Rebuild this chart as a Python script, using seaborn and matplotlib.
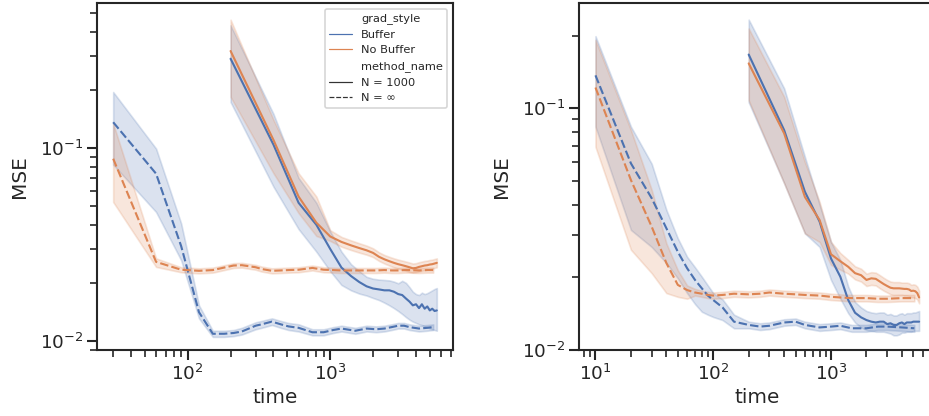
import numpy as np
import pandas as pd
import matplotlib
matplotlib.use("Agg")
import matplotlib.pyplot as plt
import seaborn as sns

# ---------------- data ----------------
grad_styles = ["Buffer", "No Buffer"]
method_names = ["N = 1000", "N = \u221e"]

# Left panel, N = inf (dashed)
tA_inf = [30, 60, 90, 120, 150, 180, 210, 240, 300, 330, 390, 450, 510, 600, 750, 900,
          1050, 1200, 1500, 1800, 2100, 2400, 2700, 3000, 3300, 3600, 4200, 4800, 5280]
A_buf_inf = [0.136, 0.0736, 0.031, 0.0141, 0.0109, 0.0109, 0.0110, 0.0112, 0.0120, 0.0122,
             0.0126, 0.0122, 0.0119, 0.0117, 0.0111, 0.0111, 0.0114, 0.0116, 0.0113, 0.0116,
             0.0115, 0.0116, 0.0118, 0.0120, 0.0120, 0.0118, 0.0116, 0.0117, 0.0118]
A_buf_inf_lo = [0.082, 0.0466, 0.0262, 0.0131, 0.0105, 0.0105, 0.0106, 0.0108, 0.0115, 0.0117,
                0.0121, 0.0117, 0.0114, 0.0112, 0.0107, 0.0107, 0.0110, 0.0112, 0.0109, 0.0112,
                0.0111, 0.0112, 0.0114, 0.0116, 0.0116, 0.0114, 0.0112, 0.0113, 0.0114]
A_buf_inf_hi = [0.195, 0.0993, 0.0406, 0.0153, 0.0113, 0.0113, 0.0114, 0.0117, 0.0125, 0.0127,
                0.0131, 0.0127, 0.0124, 0.0122, 0.0115, 0.0115, 0.0118, 0.0120, 0.0117, 0.0120,
                0.0119, 0.0120, 0.0122, 0.0124, 0.0124, 0.0122, 0.0120, 0.0121, 0.0122]
A_nob_inf = [0.088, 0.0257, 0.0234, 0.0231, 0.0233, 0.0240, 0.0246, 0.0247, 0.0241, 0.0236,
             0.0231, 0.0232, 0.0233, 0.0234, 0.0239, 0.0234, 0.0233, 0.0232, 0.0232, 0.0232,
             0.0232, 0.0233, 0.0232, 0.0232, 0.0233, 0.0233, 0.0232, 0.0233, 0.0233]
A_nob_inf_lo = [0.0525, 0.0242, 0.0227, 0.0224, 0.0226, 0.0233, 0.0239, 0.0240, 0.0234, 0.0229,
                0.0224, 0.0225, 0.0226, 0.0227, 0.0232, 0.0227, 0.0226, 0.0225, 0.0225, 0.0225,
                0.0225, 0.0226, 0.0225, 0.0225, 0.0226, 0.0226, 0.0225, 0.0226, 0.0226]
A_nob_inf_hi = [0.134, 0.0268, 0.0241, 0.0238, 0.0240, 0.0247, 0.0253, 0.0254, 0.0248, 0.0243,
                0.0238, 0.0239, 0.0240, 0.0241, 0.0246, 0.0241, 0.0240, 0.0239, 0.0239, 0.0239,
                0.0239, 0.0240, 0.0239, 0.0239, 0.0240, 0.0240, 0.0239, 0.0240, 0.0240]

# Solid lines (N = 1000), shared time grid
t_n = [200, 400, 600, 800, 1000, 1200, 1400, 1600, 1800, 2000, 2200, 2400, 2600, 2800,
       3000, 3200, 3400, 3600, 3800, 4000, 4200, 4400, 4600, 4800, 5000, 5200, 5400, 5600]

A_buf_n = [0.290, 0.104, 0.052, 0.040, 0.030, 0.0240, 0.0217, 0.0202, 0.0192, 0.0187, 0.0185,
           0.0183, 0.0183, 0.0180, 0.0175, 0.0173, 0.0166, 0.0160, 0.0153, 0.0155, 0.0148,
           0.0155, 0.0147, 0.0151, 0.0144, 0.0147, 0.0143, 0.0144]
A_buf_n_lo = [0.173, 0.063, 0.038, 0.029, 0.023, 0.0195, 0.0183, 0.0176, 0.0172, 0.0167, 0.0163,
              0.0158, 0.0153, 0.0148, 0.0143, 0.0138, 0.0133, 0.0129, 0.0126, 0.0124, 0.0122,
              0.0121, 0.0119, 0.0118, 0.0116, 0.0115, 0.0114, 0.0113]
A_buf_n_hi = [0.432, 0.150, 0.070, 0.052, 0.037, 0.0290, 0.0250, 0.0230, 0.0215, 0.0210, 0.0208,
              0.0207, 0.0206, 0.0203, 0.0199, 0.0205, 0.0200, 0.0190, 0.0180, 0.0175, 0.0173,
              0.0178, 0.0175, 0.0177, 0.0180, 0.0183, 0.0186, 0.0188]
A_nob_n = [0.318, 0.110, 0.056, 0.041, 0.0348, 0.0326, 0.0313, 0.0303, 0.0295, 0.0286, 0.0273,
           0.0265, 0.0259, 0.0254, 0.0250, 0.0247, 0.0244, 0.0241, 0.0238, 0.0239, 0.0242,
           0.0244, 0.0246, 0.0247, 0.0249, 0.0250, 0.0252, 0.0254]
A_nob_n_lo = [0.184, 0.074, 0.046, 0.035, 0.0330, 0.0308, 0.0296, 0.0287, 0.0280, 0.0272, 0.0260,
              0.0252, 0.0246, 0.0241, 0.0237, 0.0234, 0.0231, 0.0228, 0.0226, 0.0227, 0.0229,
              0.0231, 0.0233, 0.0234, 0.0236, 0.0237, 0.0239, 0.0241]
A_nob_n_hi = [0.462, 0.140, 0.074, 0.056, 0.0375, 0.0346, 0.0332, 0.0321, 0.0312, 0.0302, 0.0288,
              0.0279, 0.0273, 0.0268, 0.0264, 0.0261, 0.0258, 0.0255, 0.0252, 0.0253, 0.0256,
              0.0258, 0.0260, 0.0261, 0.0263, 0.0264, 0.0266, 0.0268]

# Right panel, N = inf (dashed)
tB_inf = [10, 20, 30, 40, 50, 60, 70, 80, 90, 100, 120, 150, 200, 250, 300, 400, 500, 600,
          800, 1000, 1200, 1500, 2000, 2500, 3000, 4000, 5100]
B_buf_inf = [0.137, 0.0592, 0.0425, 0.0319, 0.0255, 0.0218, 0.0195, 0.0180, 0.0168, 0.0161,
             0.0150, 0.0131, 0.0127, 0.0125, 0.0126, 0.0130, 0.0131, 0.0127, 0.0124, 0.0125,
             0.0126, 0.0123, 0.0123, 0.0125, 0.0125, 0.0124, 0.0123]
B_buf_inf_lo = [0.084, 0.0314, 0.0267, 0.0229, 0.0198, 0.0172, 0.0155, 0.0144, 0.0140, 0.0137,
                0.0133, 0.0123, 0.0123, 0.0121, 0.0122, 0.0126, 0.0127, 0.0123, 0.0120, 0.0121,
                0.0122, 0.0119, 0.0119, 0.0121, 0.0121, 0.0120, 0.0119]
B_buf_inf_hi = [0.199, 0.084, 0.059, 0.038, 0.029, 0.0243, 0.0220, 0.0201, 0.0185, 0.0172,
                0.0162, 0.0140, 0.0131, 0.0129, 0.0130, 0.0134, 0.0135, 0.0131, 0.0128, 0.0129,
                0.0130, 0.0127, 0.0127, 0.0129, 0.0129, 0.0128, 0.0127]
B_nob_inf = [0.122, 0.0505, 0.0324, 0.0229, 0.0186, 0.0177, 0.0173, 0.0171, 0.0169, 0.0168,
             0.0169, 0.0171, 0.0170, 0.0171, 0.0173, 0.0171, 0.0170, 0.0169, 0.0168, 0.0166,
             0.0165, 0.0164, 0.0164, 0.0163, 0.0163, 0.0164, 0.0164]
B_nob_inf_lo = [0.0693, 0.026, 0.0208, 0.0172, 0.0166, 0.0163, 0.0168, 0.0166, 0.0164, 0.0163,
                0.0164, 0.0166, 0.0165, 0.0166, 0.0168, 0.0166, 0.0165, 0.0164, 0.0163, 0.0161,
                0.0160, 0.0159, 0.0159, 0.0158, 0.0158, 0.0159, 0.0159]
B_nob_inf_hi = [0.192, 0.0813, 0.046, 0.0276, 0.0214, 0.0185, 0.0179, 0.0176, 0.0174, 0.0173,
                0.0174, 0.0176, 0.0175, 0.0176, 0.0178, 0.0176, 0.0175, 0.0174, 0.0173, 0.0171,
                0.0170, 0.0169, 0.0169, 0.0168, 0.0168, 0.0169, 0.0169]

B_buf_n = [0.167, 0.0813, 0.0452, 0.034, 0.0239, 0.0201, 0.0161, 0.01426, 0.01365, 0.0133,
           0.0131, 0.0130, 0.0131, 0.0131, 0.0128, 0.0129, 0.0127, 0.01268, 0.0129, 0.0130,
           0.0128, 0.0130, 0.0130, 0.0130, 0.0131, 0.0131, 0.0131, 0.0131]
B_buf_n_lo = [0.106, 0.049, 0.0304, 0.0267, 0.0195, 0.0163, 0.0142, 0.0130, 0.0124, 0.0121,
              0.0120, 0.0119, 0.0119, 0.0119, 0.0118, 0.0117, 0.0115, 0.0115, 0.0116, 0.0118,
              0.0118, 0.0119, 0.0119, 0.0119, 0.0120, 0.0120, 0.0120, 0.0120]
B_buf_n_hi = [0.233, 0.121, 0.063, 0.040, 0.028, 0.0236, 0.0183, 0.0158, 0.0150, 0.0145,
              0.0143, 0.0142, 0.0143, 0.0143, 0.0140, 0.0141, 0.0139, 0.0139, 0.0141, 0.0142,
              0.0140, 0.0142, 0.0142, 0.0142, 0.0143, 0.0143, 0.0144, 0.0145]
B_nob_n = [0.1535, 0.0788, 0.043, 0.0345, 0.0249, 0.0233, 0.0221, 0.0208, 0.0204, 0.0195,
           0.0198, 0.0197, 0.0192, 0.01875, 0.0184, 0.0181, 0.0180, 0.0180, 0.0180, 0.01795,
           0.0179, 0.0179, 0.0178, 0.01755, 0.0176, 0.0175, 0.0172, 0.0165]
B_nob_n_lo = [0.108, 0.049, 0.0304, 0.028, 0.0225, 0.0215, 0.0207, 0.0196, 0.0192, 0.0184,
              0.0186, 0.0185, 0.0180, 0.0176, 0.0173, 0.0170, 0.0169, 0.0169, 0.0169, 0.0169,
              0.0168, 0.0168, 0.0167, 0.0165, 0.0165, 0.0164, 0.0162, 0.0156]
B_nob_n_hi = [0.214, 0.1117, 0.060, 0.041, 0.028, 0.0252, 0.0236, 0.0222, 0.0217, 0.0207,
              0.0210, 0.0209, 0.0204, 0.0199, 0.0195, 0.0192, 0.0191, 0.0191, 0.0191, 0.0190,
              0.0190, 0.0190, 0.0189, 0.0186, 0.0187, 0.0186, 0.0183, 0.0176]


def frame(t, mid, lo, hi, grad, method):
    rows = []
    for ti, m, l, h in zip(t, mid, lo, hi):
        for v in (l, m, h):
            rows.append({"time": ti, "MSE": v, "grad_style": grad, "method_name": method})
    return pd.DataFrame(rows)


dfA = pd.concat([
    frame(t_n, A_buf_n, A_buf_n_lo, A_buf_n_hi, grad_styles[0], method_names[0]),
    frame(t_n, A_nob_n, A_nob_n_lo, A_nob_n_hi, grad_styles[1], method_names[0]),
    frame(tA_inf, A_buf_inf, A_buf_inf_lo, A_buf_inf_hi, grad_styles[0], method_names[1]),
    frame(tA_inf, A_nob_inf, A_nob_inf_lo, A_nob_inf_hi, grad_styles[1], method_names[1]),
], ignore_index=True)
dfB = pd.concat([
    frame(t_n, B_buf_n, B_buf_n_lo, B_buf_n_hi, grad_styles[0], method_names[0]),
    frame(t_n, B_nob_n, B_nob_n_lo, B_nob_n_hi, grad_styles[1], method_names[0]),
    frame(tB_inf, B_buf_inf, B_buf_inf_lo, B_buf_inf_hi, grad_styles[0], method_names[1]),
    frame(tB_inf, B_nob_inf, B_nob_inf_lo, B_nob_inf_hi, grad_styles[1], method_names[1]),
], ignore_index=True)

# ---------------- plot ----------------
sns.set_theme(context="talk", style="ticks")
DPI = 80
fig = plt.figure(figsize=(929 / DPI, 416 / DPI), dpi=DPI)
axA = fig.add_axes([97 / 929, 66 / 416, 356 / 929, 347 / 416])
axB = fig.add_axes([579.3 / 929, 66 / 416, 356 / 929, 347 / 416])

for ax, df, show_leg in [(axA, dfA, True), (axB, dfB, False)]:
    ax.set_xscale("log")
    ax.set_yscale("log")
    sns.lineplot(data=df, x="time", y="MSE", hue="grad_style", style="method_name",
                 hue_order=grad_styles, style_order=method_names,
                 estimator="median", errorbar=("pi", 100), ax=ax, legend=show_leg,
                 linewidth=1.9)
    ax.set_xlabel("time")
    ax.set_ylabel("MSE", labelpad=10)

axA.set_ylim(0.00898, 0.564)
axB.set_ylim(0.01, 0.273)

sns.move_legend(axA, "upper right", fontsize=10.2, title=None)
for ln in axA.get_legend().get_lines():
    ln.set_linewidth(1.1)

fig.savefig("out.png", dpi=DPI)
